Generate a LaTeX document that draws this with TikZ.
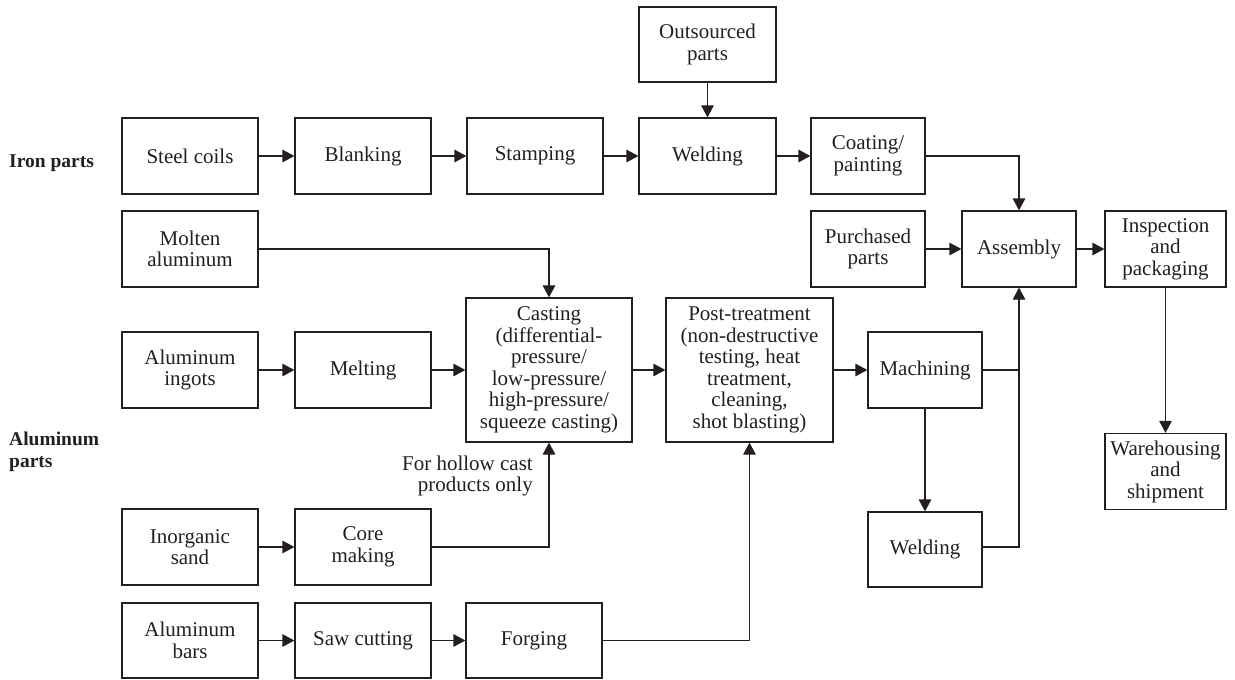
\documentclass[tikz,border=0pt]{standalone}
\usepackage{fontspec}
\setmainfont{Liberation Serif}
\usetikzlibrary{arrows.meta}
\definecolor{ink}{HTML}{231F20}
\begin{document}
\begin{tikzpicture}[x=1pt,y=-1pt,
  box/.style={draw=ink,line width=1.2pt,text=ink,align=center,inner sep=0pt,
    minimum width=136pt,minimum height=76pt,
    font=\fontsize{21}{21.5}\selectfont},
  narrow/.style={box,minimum width=114pt},
  wide/.style={box,minimum width=121pt},
  tall/.style={box,minimum width=166pt,minimum height=144pt},
  flow/.style={draw=ink,line width=1.2pt,-{Triangle[length=12pt,width=12.5pt]}},
  link/.style={draw=ink,line width=1.2pt},
  group/.style={text=ink,align=left,inner sep=0pt,
    font=\fontsize{19.5}{21.5}\selectfont\bfseries},
  note/.style={text=ink,align=right,inner sep=0pt,
    font=\fontsize{21}{21.5}\selectfont}]
\useasboundingbox (0,0) rectangle (1235,680);

% iron parts line
\node[box] (steel) at (190,156) {Steel coils};
\node[box] (blank) at (363,156) {Blanking};
\node[box] (stamp) at (535,156) {Stamping};
\node[box,minimum width=137pt] (weldA) at (707.5,156) {Welding};
\node[box,minimum width=137pt,minimum height=75pt] (outs) at (707.5,44.5) {Outsourced\\parts};
\node[narrow] (coat) at (868,156) {Coating/\\painting};

% assembly and dispatch
\node[narrow] (purch) at (868,249) {Purchased\\parts};
\node[narrow] (assem) at (1019,249) {Assembly};
\node[wide] (insp) at (1165.5,249) {Inspection\\and\\packaging};
\node[wide] (ware) at (1165.5,471.5) {Warehousing\\and\\shipment};

% aluminum parts line
\node[box] (molten) at (190,249) {Molten\\aluminum};
\node[box] (ingot) at (190,370) {Aluminum\\ingots};
\node[box] (melt) at (363,370) {Melting};
\node[tall] (cast) at (549,370) {Casting\\(differential-\\pressure/\\low-pressure/\\high-pressure/\\squeeze casting)};
\node[tall,minimum width=167pt] (post) at (749.5,370) {Post-treatment\\(non-destructive\\testing, heat\\treatment,\\cleaning,\\shot blasting)};
\node[narrow] (mach) at (925,370) {Machining};
\node[narrow,minimum height=75pt] (weldB) at (925,549.5) {Welding};
\node[box] (sand) at (190,547) {Inorganic\\sand};
\node[box] (core) at (363,547) {Core\\making};
\node[box,minimum height=75pt] (bars) at (190,640.5) {Aluminum\\bars};
\node[box,minimum height=75pt] (saw) at (363,640.5) {Saw cutting};
\node[box,minimum height=75pt] (forge) at (534,640.5) {Forging};

% group labels and note
\node[group,anchor=west] (iron) at (9,163) {Iron parts};
\node[group,anchor=west] (alu) at (9,452) {Aluminum\\parts};
\node[note,anchor=east] (hollow) at (533,476) {For hollow cast\\products only};

% connectors
\draw[flow] (steel) -- (blank);
\draw[flow] (blank) -- (stamp);
\draw[flow] (stamp) -- (weldA);
\draw[flow] (weldA) -- (coat);
\draw[flow] (outs) -- (weldA);
\draw[flow] (coat.east) -| (assem.north);
\draw[flow] (purch) -- (assem);
\draw[flow] (assem) -- (insp);
\draw[flow] (insp) -- (ware);
\draw[flow] (molten.east) -| (cast.north);
\draw[flow] (ingot) -- (melt);
\draw[flow] (melt) -- (cast);
\draw[flow] (cast) -- (post);
\draw[flow] (post) -- (mach);
\draw[link] (mach.east) -- (mach.east -| assem.south);
\draw[flow] (mach) -- (weldB);
\draw[flow] ([yshift=2.5pt]weldB.east) -| (assem.south);
\draw[flow] (sand) -- (core);
\draw[flow] (core.east) -| (cast.south);
\draw[flow] (bars) -- (saw);
\draw[flow] (saw) -- (forge);
\draw[flow] (forge.east) -| (post.south);
\end{tikzpicture}
\end{document}
